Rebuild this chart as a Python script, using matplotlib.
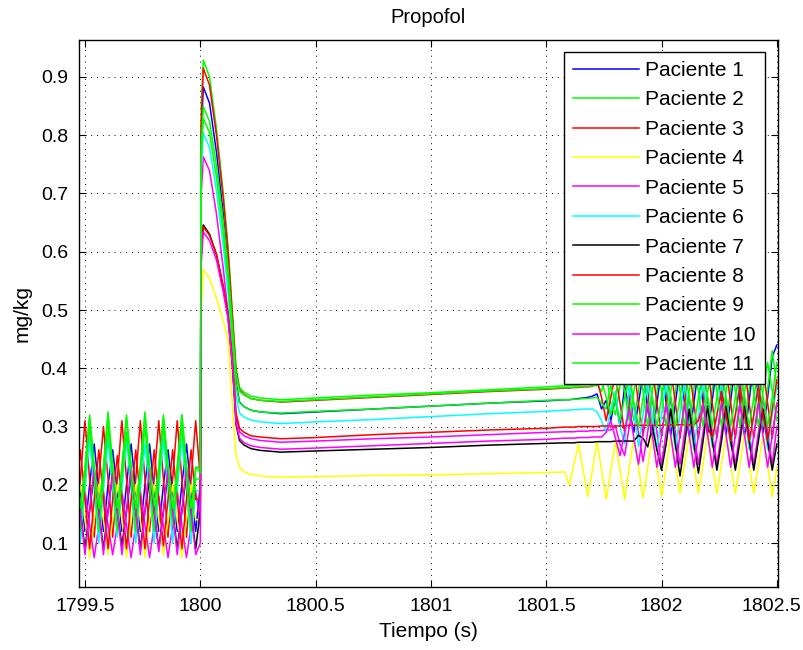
import matplotlib
matplotlib.use('Agg')
import matplotlib.pyplot as plt
from matplotlib.transforms import ScaledTranslation

plt.rcParams['font.family'] = ['Liberation Sans', 'DejaVu Sans']

# ---------------- data ----------------
labels = ['Paciente 1', 'Paciente 2', 'Paciente 3', 'Paciente 4', 'Paciente 5', 'Paciente 6',
          'Paciente 7', 'Paciente 8', 'Paciente 9', 'Paciente 10', 'Paciente 11']
colors = ['#0000ff', '#00ff00', '#ff0000', '#ffff00', '#ff00ff', '#00ffff',
          '#000000', '#ff0000', '#00ff00', '#ff00ff', '#00ff00']

t_pre = [1799.46, 1799.48, 1799.50, 1799.52, 1799.54, 1799.56, 1799.58, 1799.60, 1799.62,
         1799.64, 1799.66, 1799.68, 1799.70, 1799.72, 1799.74, 1799.76, 1799.78, 1799.80,
         1799.82, 1799.84, 1799.86, 1799.88, 1799.90, 1799.92, 1799.94, 1799.96, 1799.98]
t_main = [1800.000, 1800.004, 1800.013, 1800.04, 1800.07, 1800.10, 1800.12, 1800.14, 1800.155,
          1800.17, 1800.19, 1800.22, 1800.26, 1800.35, 1800.50, 1800.75, 1801.00, 1801.25,
          1801.50, 1801.58]
t_post = [1801.60, 1801.62, 1801.64, 1801.66, 1801.68, 1801.70, 1801.72, 1801.74, 1801.76, 1801.78,
          1801.80, 1801.82, 1801.84, 1801.86, 1801.88, 1801.90, 1801.92, 1801.94, 1801.96, 1801.98,
          1802.00, 1802.02, 1802.04, 1802.06, 1802.08, 1802.10, 1802.12, 1802.14, 1802.16, 1802.18,
          1802.20, 1802.22, 1802.24, 1802.26, 1802.28, 1802.30, 1802.32, 1802.34, 1802.36, 1802.38,
          1802.40, 1802.42, 1802.44, 1802.46, 1802.48, 1802.50]

pre1 = [.27, .19, .12, .20, .27, .19, .12, .20, .26, .19, .12, .20, .27, .19, .12, .20, .27, .19, .12, .20, .26, .19, .12, .20, .27, .19, .12]
pre2 = [.23, .14, .23, .32, .23, .14, .23, .325, .23, .14, .23, .32, .23, .14, .23, .325, .23, .14, .23, .32, .23, .14, .23, .32, .23, .14, .23]
pre3 = [.11, .21, .31, .21, .11, .21, .30, .21, .11, .21, .31, .21, .11, .21, .31, .21, .12, .21, .31, .21, .11, .21, .31, .21, .11, .21, .31]
pre4 = [.14, .20, .14, .075, .14, .20, .14, .08, .14, .20, .14, .075, .14, .20, .14, .075, .14, .20, .14, .08, .14, .20, .14, .075, .14, .20, .14]
pre5 = [.075, .13, .19, .13, .075, .13, .19, .13, .08, .13, .19, .13, .075, .13, .19, .13, .075, .13, .18, .13, .075, .13, .19, .13, .075, .13, .19]
pre6 = [.19, .10, .19, .28, .19, .10, .19, .28, .19, .11, .19, .28, .19, .10, .19, .27, .19, .10, .19, .28, .19, .10, .19, .28, .19, .10, .19]
pre7 = [.22, .155, .09, .155, .22, .155, .09, .155, .22, .155, .095, .155, .22, .155, .09, .155, .21, .155, .09, .155, .22, .155, .09, .155, .22, .155, .09]
pre8 = [.175, .26, .175, .09, .175, .26, .175, .09, .175, .25, .175, .09, .175, .26, .175, .09, .175, .26, .175, .095, .175, .26, .175, .09, .175, .26, .175]
pre9 = [.21, .12, .21, .30, .21, .12, .21, .30, .21, .12, .21, .29, .21, .12, .21, .30, .21, .12, .21, .30, .21, .13, .21, .30, .21, .12, .21]
pre10 = [.23, .155, .08, .155, .23, .155, .08, .155, .22, .155, .08, .155, .23, .155, .08, .155, .23, .155, .085, .155, .23, .155, .08, .155, .23, .155, .08]
pre11 = [.23, .16, .23, .315, .23, .16, .23, .32, .23, .16, .23, .315, .23, .16, .23, .32, .23, .165, .23, .315, .23, .16, .23, .32, .23, .16, .23]

main1 = [.20, .80, .883, .855, .771, .663, .576, .461, .375, .342, .334, .328, .325, .322, .325, .330, .335, .340, .344, .346]
main2 = [.23, .85, .929, .900, .812, .700, .610, .491, .401, .367, .359, .352, .349, .346, .349, .354, .358, .363, .368, .370]
main3 = [.21, .82, .915, .886, .800, .690, .602, .484, .396, .363, .355, .348, .345, .342, .345, .350, .355, .360, .364, .366]
main4 = [.14, .50, .569, .555, .52, .48, .45, .33, .25, .23, .222, .218, .215, .213, .214, .216, .217, .219, .221, .222]
main5 = [.13, .70, .763, .739, .665, .570, .495, .395, .319, .291, .284, .279, .276, .273, .275, .279, .282, .286, .290, .291]
main6 = [.19, .74, .804, .779, .704, .608, .531, .429, .352, .323, .316, .311, .308, .305, .308, .312, .317, .322, .326, .328]
main7 = [.155, .60, .646, .630, .595, .537, .490, .404, .303, .276, .268, .262, .259, .256, .258, .261, .264, .268, .271, .272]
main8 = [.175, .60, .643, .628, .596, .541, .497, .417, .323, .297, .290, .284, .282, .279, .281, .286, .290, .294, .297, .299]
main9 = [.21, .78, .849, .824, .748, .650, .572, .468, .391, .361, .354, .348, .345, .343, .346, .351, .356, .361, .365, .367]
main10 = [.10, .58, .634, .619, .586, .530, .485, .403, .306, .280, .272, .267, .264, .261, .263, .267, .271, .275, .278, .280]
main11 = [.22, .76, .829, .804, .728, .630, .552, .448, .371, .341, .334, .328, .325, .323, .326, .330, .335, .340, .345, .346]

post1 = [.346, .347, .348, .349, .350, .352, .356, .33, .345, .31,
         .35, .30, .37, .33, .29, .34, .39, .33, .28, .34,
         .40, .34, .285, .34, .40, .34, .28, .34, .40, .34,
         .285, .345, .405, .345, .285, .345, .41, .345, .28, .345,
         .41, .35, .29, .35, .42, .44]
post2 = [.370, .371, .371, .372, .372, .373, .373, .36, .39, .34,
         .32, .37, .41, .35, .31, .36, .42, .36, .30, .36,
         .42, .36, .30, .36, .42, .36, .30, .365, .425, .365,
         .305, .365, .425, .365, .305, .365, .43, .365, .305, .365,
         .43, .365, .30, .365, .43, .37]
post3 = [.366, .367, .367, .368, .368, .369, .38, .35, .31, .35,
         .39, .34, .29, .34, .40, .34, .285, .34, .40, .34,
         .285, .34, .40, .34, .28, .34, .40, .34, .28, .34,
         .40, .34, .28, .34, .40, .34, .28, .34, .40, .34,
         .28, .34, .40, .34, .28, .34]
post4 = [.20, .235, .27, .225, .18, .225, .275, .225, .175, .225,
         .275, .225, .175, .23, .28, .23, .178, .23, .285, .23,
         .18, .23, .285, .235, .185, .235, .285, .235, .185, .235,
         .29, .235, .185, .235, .285, .235, .185, .235, .29, .235,
         .185, .235, .285, .235, .18, .23]
post5 = [.291, .291, .292, .292, .292, .293, .293, .293, .294, .294,
         .30, .27, .25, .30, .34, .29, .24, .29, .35, .29,
         .235, .29, .35, .29, .235, .29, .35, .29, .235, .29,
         .35, .29, .235, .29, .35, .29, .235, .29, .35, .29,
         .235, .29, .35, .29, .235, .30]
post6 = [.328, .329, .329, .33, .33, .33, .325, .31, .29, .33,
         .36, .30, .27, .37, .33, .265, .32, .38, .32, .26,
         .32, .38, .32, .26, .32, .38, .32, .26, .32, .38,
         .32, .265, .32, .38, .32, .265, .32, .38, .32, .26,
         .32, .38, .32, .26, .32, .37]
post7 = [.272, .272, .273, .273, .273, .273, .274, .274, .274, .274,
         .275, .275, .275, .275, .275, .285, .28, .265, .30, .26,
         .225, .27, .33, .27, .215, .27, .33, .27, .22, .275,
         .335, .275, .225, .275, .335, .275, .225, .275, .335, .275,
         .225, .275, .33, .275, .225, .27]
post8 = [.299, .299, .300, .300, .300, .300, .300, .301, .301, .301,
         .301, .301, .301, .302, .302, .302, .302, .302, .302, .302,
         .302, .303, .303, .303, .303, .303, .303, .303, .31, .34,
         .30, .28, .32, .36, .32, .275, .32, .37, .32, .275,
         .32, .37, .32, .275, .33, .38]
post9 = [.367, .368, .368, .369, .369, .37, .37, .38, .35, .32,
         .35, .40, .36, .31, .36, .41, .36, .30, .36, .41,
         .36, .30, .36, .41, .36, .30, .36, .41, .36, .30,
         .36, .41, .36, .30, .36, .41, .36, .30, .36, .41,
         .36, .30, .36, .41, .36, .31]
post10 = [.280, .280, .281, .281, .281, .282, .282, .282, .29, .31,
          .28, .25, .29, .33, .28, .235, .29, .34, .285, .23,
          .285, .34, .285, .23, .285, .34, .285, .23, .285, .34,
          .285, .23, .285, .34, .285, .23, .285, .34, .285, .23,
          .285, .34, .285, .23, .285, .34]
post11 = [.346, .347, .347, .348, .348, .349, .35, .34, .33, .37,
          .34, .31, .35, .39, .34, .30, .35, .40, .35, .30,
          .35, .40, .35, .30, .35, .40, .35, .30, .35, .40,
          .35, .30, .35, .40, .35, .30, .35, .40, .35, .30,
          .35, .40, .35, .30, .35, .41]

pre_all = [pre1, pre2, pre3, pre4, pre5, pre6, pre7, pre8, pre9, pre10, pre11]
main_all = [main1, main2, main3, main4, main5, main6, main7, main8, main9, main10, main11]
post_all = [post1, post2, post3, post4, post5, post6, post7, post8, post9, post10, post11]

xticks = [1799.5, 1800, 1800.5, 1801, 1801.5, 1802, 1802.5]
xticklabels = ['1799.5', '1800', '1800.5', '1801', '1801.5', '1802', '1802.5']
yticks = [0.1, 0.2, 0.3, 0.4, 0.5, 0.6, 0.7, 0.8, 0.9]
yticklabels = ['0.1', '0.2', '0.3', '0.4', '0.5', '0.6', '0.7', '0.8', '0.9']

# ---------------- plot ----------------
fig = plt.figure(figsize=(8.04, 6.5), dpi=100)
ax = fig.add_axes([79 / 804, 1 - 587 / 650, 699 / 804, 547 / 650])

t_all = t_pre + t_main + t_post
for lab, col, a, b, c in zip(labels, colors, pre_all, main_all, post_all):
    ax.plot(t_all, a + b + c, color=col, lw=1.1, label=lab)

ax.set_xlim(1799.474, 1802.505)
ax.set_ylim(0.0245, 0.9635)
ax.set_xticks(xticks)
ax.set_xticklabels(xticklabels)
ax.set_yticks(yticks)
ax.set_yticklabels(yticklabels)
ax.grid(True, color='k', linestyle=(0, (1, 5)), linewidth=0.7)
ax.tick_params(direction='in', top=True, right=True, length=5, width=0.8,
               labelsize=14, pad=8)
for s in ax.spines.values():
    s.set_linewidth(1.0)
    s.set_color('k')

# keep the last x tick label inside the figure
last = ax.get_xticklabels()[-1]
last.set_transform(last.get_transform() + ScaledTranslation(-5 / 100, 0, fig.dpi_scale_trans))

ax.set_title('Propofol', fontsize=14.5, pad=12)
ax.set_xlabel('Tiempo (s)', fontsize=15)
ax.set_ylabel('mg/kg', fontsize=15)
ax.xaxis.set_label_coords(0.5, -0.064)
ax.yaxis.set_label_coords(-0.068, 0.5)

leg = ax.legend(loc='upper right', bbox_to_anchor=(0.9814, 0.9786), borderaxespad=0,
                fontsize=15, handlelength=3.15, handletextpad=0.3, labelspacing=0.5,
                borderpad=0.45, fancybox=False, framealpha=1, edgecolor='k')
leg.get_frame().set_linewidth(1.0)

fig.savefig('out.png', dpi=100)
